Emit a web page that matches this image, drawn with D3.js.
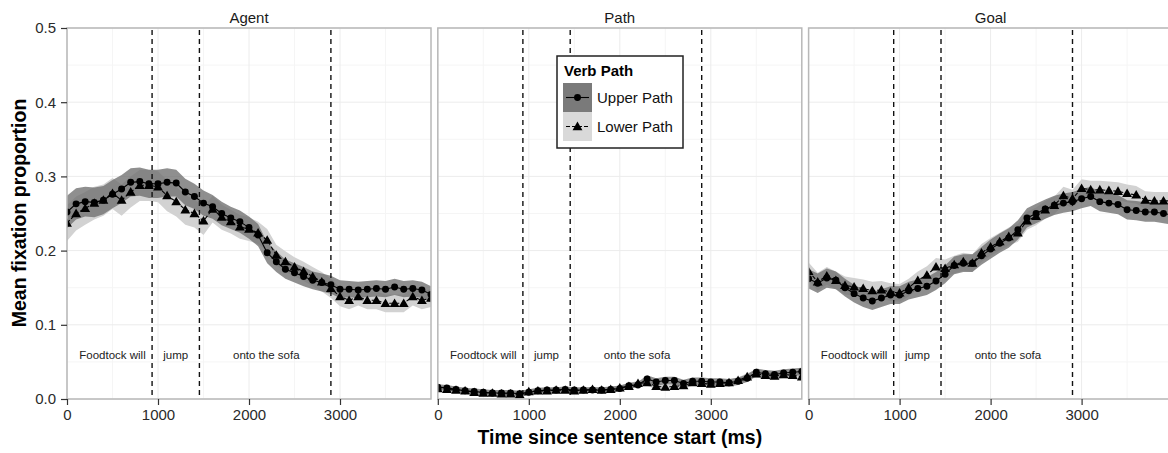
<!DOCTYPE html>
<html>
<head>
<meta charset="utf-8">
<script src="https://cdn.jsdelivr.net/npm/d3@7"></script>
<style>
  body { margin: 0; background: #fff; }
  svg { display: block; font-family: "Liberation Sans", Arial, sans-serif; }
</style>
</head>
<body>
<div id="chart-area"></div>
<script>
// ---- data ----
const panels = ["Agent", "Path", "Goal"];
const times = d3.range(0, 4001, 100);

const agentUpper = [0.252,0.263,0.266,0.265,0.268,0.276,0.283,0.292,0.293,0.290,0.290,0.292,0.291,0.279,0.273,0.264,0.259,0.250,0.244,0.239,0.231,0.221,0.197,0.185,0.175,0.170,0.165,0.160,0.157,0.154,0.148,0.148,0.147,0.148,0.149,0.148,0.151,0.148,0.149,0.147,0.141];
const agentLower = [0.237,0.250,0.257,0.264,0.268,0.277,0.268,0.279,0.288,0.288,0.286,0.274,0.266,0.255,0.250,0.240,0.256,0.245,0.239,0.232,0.229,0.224,0.214,0.194,0.185,0.178,0.172,0.165,0.158,0.149,0.138,0.133,0.138,0.133,0.133,0.129,0.129,0.129,0.138,0.133,0.136];
const pathUpper = [0.016,0.015,0.013,0.011,0.010,0.009,0.008,0.008,0.008,0.007,0.009,0.011,0.012,0.012,0.013,0.012,0.012,0.012,0.012,0.013,0.014,0.018,0.019,0.027,0.023,0.025,0.025,0.021,0.024,0.024,0.023,0.023,0.022,0.024,0.028,0.036,0.034,0.033,0.035,0.036,0.037];
const pathLower = [0.014,0.013,0.012,0.011,0.009,0.008,0.008,0.007,0.007,0.006,0.010,0.011,0.011,0.012,0.012,0.011,0.012,0.013,0.012,0.013,0.015,0.017,0.021,0.022,0.017,0.016,0.017,0.018,0.022,0.021,0.020,0.021,0.022,0.025,0.030,0.034,0.032,0.031,0.033,0.032,0.030];
const goalUpper = [0.162,0.156,0.163,0.160,0.150,0.142,0.136,0.132,0.136,0.140,0.140,0.146,0.149,0.152,0.159,0.168,0.180,0.183,0.183,0.193,0.202,0.210,0.217,0.228,0.244,0.250,0.256,0.261,0.264,0.266,0.270,0.273,0.266,0.264,0.262,0.255,0.254,0.252,0.252,0.250,0.248];
const goalLower = [0.172,0.158,0.166,0.160,0.153,0.151,0.149,0.146,0.147,0.144,0.143,0.150,0.160,0.167,0.178,0.176,0.181,0.185,0.183,0.197,0.205,0.212,0.219,0.224,0.240,0.246,0.255,0.261,0.274,0.270,0.284,0.282,0.282,0.281,0.280,0.277,0.275,0.268,0.267,0.267,0.267];

// standard errors (ribbon half widths)
const agentUpperSe = [0.022,0.021,0.020,0.020,0.019,0.019,0.019,0.019,0.019,0.019,0.019,0.019,0.018,0.018,0.017,0.017,0.016,0.016,0.015,0.015,0.015,0.015,0.014,0.014,0.013,0.013,0.013,0.012,0.012,0.012,0.012,0.011,0.011,0.011,0.011,0.011,0.011,0.011,0.011,0.011,0.011];
const agentLowerSe = [0.024,0.023,0.022,0.022,0.021,0.021,0.021,0.021,0.021,0.021,0.021,0.021,0.020,0.020,0.019,0.019,0.018,0.017,0.016,0.016,0.016,0.015,0.015,0.014,0.014,0.013,0.013,0.013,0.013,0.013,0.013,0.012,0.012,0.012,0.012,0.012,0.012,0.012,0.012,0.012,0.012];
const pathUpperSe = [0.004,0.004,0.004,0.004,0.004,0.004,0.004,0.004,0.004,0.004,0.004,0.004,0.004,0.004,0.004,0.004,0.004,0.004,0.004,0.004,0.004,0.004,0.004,0.005,0.005,0.005,0.005,0.005,0.005,0.005,0.005,0.005,0.005,0.005,0.005,0.005,0.005,0.005,0.005,0.005,0.005];
const pathLowerSe = [0.003,0.003,0.003,0.003,0.003,0.003,0.003,0.003,0.003,0.003,0.003,0.003,0.003,0.003,0.003,0.003,0.003,0.003,0.003,0.003,0.004,0.004,0.004,0.004,0.004,0.004,0.004,0.004,0.004,0.004,0.004,0.004,0.004,0.004,0.005,0.005,0.005,0.005,0.005,0.005,0.005];
const goalUpperSe = [0.013,0.013,0.013,0.012,0.012,0.012,0.012,0.012,0.012,0.012,0.012,0.012,0.012,0.012,0.012,0.012,0.012,0.012,0.012,0.012,0.013,0.013,0.013,0.013,0.013,0.013,0.013,0.013,0.013,0.013,0.013,0.013,0.013,0.013,0.013,0.013,0.013,0.013,0.013,0.013,0.013];
const goalLowerSe = [0.012,0.012,0.012,0.012,0.012,0.012,0.012,0.012,0.012,0.012,0.012,0.012,0.012,0.012,0.012,0.012,0.012,0.012,0.012,0.012,0.012,0.012,0.012,0.012,0.012,0.012,0.012,0.012,0.012,0.012,0.012,0.012,0.012,0.012,0.012,0.012,0.012,0.012,0.012,0.012,0.012];

const seriesNames = ["Upper Path", "Lower Path"];
const seriesValues = {
    Agent: [agentUpper, agentLower],
    Path: [pathUpper, pathLower],
    Goal: [goalUpper, goalLower],
};
const seriesSe = {
    Agent: [agentUpperSe, agentLowerSe],
    Path: [pathUpperSe, pathLowerSe],
    Goal: [goalUpperSe, goalLowerSe],
};

// word onsets and labels
const wordBoundaries = [935, 1455, 2900];
const wordLabels = ["Foodtock will", "jump", "onto the sofa"];
const wordLabelX = [500, 1195, 2190];
const wordLabelY = 0.059;

const xTicks = [0, 1000, 2000, 3000];
const yTicks = [0.0, 0.1, 0.2, 0.3, 0.4, 0.5];

// ---- layout ----
const width = 1168;
const height = 453;
const panelLeft = 67;
const panelW = 364;
const panelGap = 6.8;
const panelTop = 28;
const panelBottom = 399;

const ribbonFill = ["#707070", "#d2d2d2"];
const ribbonOpacity = [0.78, 1];

const svg = d3
    .select("#chart-area")
    .append("svg")
    .attr("width", width)
    .attr("height", height);

const yScale = d3.scaleLinear().domain([0, 0.5]).range([panelBottom, panelTop]);

panels.forEach((name, p) => {
    const x0 = panelLeft + p * (panelW + panelGap);
    const xScale = d3.scaleLinear().domain([0, 4000]).range([x0, x0 + panelW]);

    const g = svg.append("g").attr("class", "panel");

    //Clip marks to the panel
    svg.append("clipPath")
        .attr("id", `clip-${p}`)
        .append("rect")
        .attr("x", x0)
        .attr("y", panelTop)
        .attr("width", panelW)
        .attr("height", panelBottom - panelTop);

    //Grid
    g.selectAll(".minor-x")
        .data([500, 1500, 2500, 3500])
        .join("line")
        .attr("x1", (d) => xScale(d))
        .attr("x2", (d) => xScale(d))
        .attr("y1", panelTop)
        .attr("y2", panelBottom)
        .attr("stroke", "#f5f5f5");
    g.selectAll(".minor-y")
        .data([0.05, 0.15, 0.25, 0.35, 0.45])
        .join("line")
        .attr("x1", x0)
        .attr("x2", x0 + panelW)
        .attr("y1", (d) => yScale(d))
        .attr("y2", (d) => yScale(d))
        .attr("stroke", "#f5f5f5");
    g.append("g")
        .selectAll("line")
        .data(xTicks)
        .join("line")
        .attr("x1", (d) => xScale(d))
        .attr("x2", (d) => xScale(d))
        .attr("y1", panelTop)
        .attr("y2", panelBottom)
        .attr("stroke", "#ececec");
    g.append("g")
        .selectAll("line")
        .data(yTicks)
        .join("line")
        .attr("x1", x0)
        .attr("x2", x0 + panelW)
        .attr("y1", (d) => yScale(d))
        .attr("y2", (d) => yScale(d))
        .attr("stroke", "#ececec");

    const marks = g.append("g").attr("clip-path", `url(#clip-${p})`);

    //Ribbons: lower path first, upper on top
    [1, 0].forEach((s) => {
        const vals = seriesValues[name][s];
        const se = seriesSe[name][s];
        const area = d3
            .area()
            .x((d, i) => xScale(times[i]))
            .y0((d, i) => yScale(d - se[i]))
            .y1((d, i) => yScale(d + se[i]));
        marks.append("path")
            .datum(vals)
            .attr("d", area)
            .attr("fill", ribbonFill[s])
            .attr("fill-opacity", ribbonOpacity[s]);
    });

    //Word boundaries
    marks.selectAll(".vline")
        .data(wordBoundaries)
        .join("line")
        .attr("x1", (d) => xScale(d))
        .attr("x2", (d) => xScale(d))
        .attr("y1", panelTop + 2)
        .attr("y2", panelBottom)
        .attr("stroke", "#111")
        .attr("stroke-width", 1.4)
        .attr("stroke-dasharray", "5,4");

    marks.selectAll(".word")
        .data(wordLabels)
        .join("text")
        .attr("x", (d, i) => xScale(wordLabelX[i]))
        .attr("y", yScale(wordLabelY))
        .attr("dy", "0.35em")
        .attr("text-anchor", "middle")
        .attr("font-size", "11.5px")
        .attr("fill", "#222")
        .text((d) => d);

    //Lines and points
    [0, 1].forEach((s) => {
        const vals = seriesValues[name][s];
        const line = d3
            .line()
            .x((d, i) => xScale(times[i]))
            .y((d) => yScale(d));
        marks.append("path")
            .datum(vals)
            .attr("d", line)
            .attr("fill", "none")
            .attr("stroke", "#000")
            .attr("stroke-width", 1.1)
            .attr("stroke-dasharray", s === 1 ? "4,2" : null);
        const symbol = d3
            .symbol()
            .type(s === 0 ? d3.symbolCircle : d3.symbolTriangle)
            .size(s === 0 ? 38 : 42);
        marks.selectAll(`.pt${s}`)
            .data(vals)
            .join("path")
            .attr("class", `pt${s}`)
            .attr("transform", (d, i) => `translate(${xScale(times[i])},${yScale(d) + (s === 1 ? 0.8 : 0)})`)
            .attr("d", symbol)
            .attr("fill", "#000");
    });

    //Panel border
    g.append("rect")
        .attr("x", x0)
        .attr("y", panelTop)
        .attr("width", panelW)
        .attr("height", panelBottom - panelTop)
        .attr("fill", "none")
        .attr("stroke", "#b8b8b8")
        .attr("stroke-width", 1.5);

    //Strip title
    g.append("text")
        .attr("x", x0 + panelW / 2)
        .attr("y", 18)
        .attr("dy", "0.35em")
        .attr("text-anchor", "middle")
        .attr("font-size", "15px")
        .attr("fill", "#1a1a1a")
        .text(name);

    //X axis
    const xAxis = g
        .append("g")
        .attr("transform", `translate(0, ${panelBottom})`)
        .call(d3.axisBottom(xScale).tickValues(xTicks).tickFormat(d3.format("d")).tickSize(6).tickPadding(4));
    xAxis.select(".domain").remove();
    xAxis.selectAll("line").attr("stroke", "#333").attr("stroke-width", 1.2);
    xAxis.selectAll("text").attr("font-size", "15px").attr("fill", "#2a2a2a").attr("font-family", null);

    //Y axis only on the first panel
    if (p === 0) {
        const yAxis = g
            .append("g")
            .attr("transform", `translate(${x0}, 0)`)
            .call(d3.axisLeft(yScale).tickValues(yTicks).tickFormat(d3.format(".1f")).tickSize(6).tickPadding(5));
        yAxis.select(".domain").remove();
        yAxis.selectAll("line").attr("stroke", "#333").attr("stroke-width", 1.2);
        yAxis.selectAll("text").attr("font-size", "15px").attr("fill", "#2a2a2a").attr("font-family", null);
    }
});

//Axis titles
svg.append("text")
    .attr("x", (panelLeft + panelLeft + 3 * panelW + 2 * panelGap) / 2)
    .attr("y", 437)
    .attr("dy", "0.35em")
    .attr("text-anchor", "middle")
    .attr("font-size", "19.5px")
    .attr("font-weight", "bold")
    .text("Time since sentence start (ms)");

svg.append("text")
    .attr("transform", "translate(19, 213) rotate(-90)")
    .attr("dy", "0.35em")
    .attr("text-anchor", "middle")
    .attr("font-size", "19.5px")
    .attr("font-weight", "bold")
    .text("Mean fixation proportion");

//Legend
const legend = svg.append("g").attr("transform", "translate(557, 56)");
legend.append("rect")
    .attr("width", 126)
    .attr("height", 92)
    .attr("fill", "#fff")
    .attr("stroke", "#222")
    .attr("stroke-width", 1.5);
legend.append("text")
    .attr("x", 7)
    .attr("y", 15)
    .attr("dy", "0.35em")
    .attr("font-size", "15px")
    .attr("font-weight", "bold")
    .text("Verb Path");

seriesNames.forEach((label, s) => {
    const row = legend.append("g").attr("transform", `translate(6, ${27 + 29 * s})`);
    row.append("rect")
        .attr("width", 29)
        .attr("height", 29)
        .attr("fill", s === 0 ? "#7a7a7a" : "#d9d9d9");
    row.append("line")
        .attr("x1", 3)
        .attr("x2", 26)
        .attr("y1", 14.5)
        .attr("y2", 14.5)
        .attr("stroke", "#000")
        .attr("stroke-width", 1.1)
        .attr("stroke-dasharray", s === 1 ? "4,2" : null);
    row.append("path")
        .attr("transform", `translate(14.5, ${s === 1 ? 15.3 : 14.5})`)
        .attr("d", d3.symbol().type(s === 0 ? d3.symbolCircle : d3.symbolTriangle).size(s === 0 ? 38 : 42))
        .attr("fill", "#000");
    row.append("text")
        .attr("x", 34)
        .attr("y", 14.5)
        .attr("dy", "0.35em")
        .attr("font-size", "15px")
        .attr("fill", "#111")
        .text(label);
});
</script>
</body>
</html>
